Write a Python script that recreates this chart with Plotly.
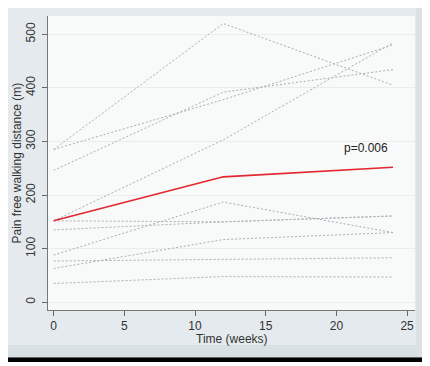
import plotly.graph_objects as go

weeks = [0, 12, 24]
subjects = {
    "s1": [285, 520, 405],
    "s2": [285, 378, 480],
    "s3": [246, 392, 434],
    "s4": [152, 303, 484],
    "s5": [152, 150, 161],
    "s6": [135, 150, 161],
    "s7": [88, 187, 130],
    "s8": [77, 80, 83],
    "s9": [63, 117, 130],
    "s10": [35, 48, 47],
}
mean_values = [152, 234, 252]
x_ticks = [0, 5, 10, 15, 20, 25]
y_ticks = [0, 100, 200, 300, 400, 500]
x_title = "Time (weeks)"
y_title = "Pain free walking distance (m)"
p_label = "p=0.006"

fig = go.Figure()
for name, vals in subjects.items():
    fig.add_trace(go.Scatter(x=weeks, y=vals, mode="lines", name=name,
                             line=dict(color="#a9afb6", width=1, dash="2px,2px"),
                             showlegend=False, hoverinfo="skip"))
fig.add_trace(go.Scatter(x=weeks, y=mean_values, mode="lines", name="mean",
                         line=dict(color="#e3262f", width=1.6), showlegend=False))

# page body has an 8px margin; figure is laid out so the window shows reference coords
OFF = 8
W, H = 430 - OFF, 366 - OFF
L, R, T, B = 48 - OFF, 15, 16 - OFF, 56
pw, ph = W - L - R, H - T - B

def px(x):
    return (x - OFF - L) / pw

def py(y):
    return (H + OFF - B - y) / ph

shapes = [
    dict(type="rect", xref="paper", yref="paper", x0=px(2), x1=px(427), y0=py(362), y1=py(5),
         fillcolor="#000000", line=dict(width=0), layer="below"),
    dict(type="rect", xref="paper", yref="paper", x0=px(5), x1=px(424), y0=py(357), y1=py(3),
         fillcolor="#e4eaed", line=dict(color="#c5cacd", width=1), layer="below"),
    dict(type="rect", xref="paper", yref="paper", x0=px(5.5), x1=px(423.5), y0=py(356.5), y1=py(345),
         fillcolor="#d9e0e4", line=dict(width=0), layer="below"),
    dict(type="rect", xref="paper", yref="paper", x0=px(416), x1=px(423.5), y0=py(356.5), y1=py(3.5),
         fillcolor="#dbe2e5", line=dict(width=0), layer="below"),
    dict(type="rect", xref="paper", yref="paper", x0=0, x1=1, y0=0, y1=1,
         fillcolor="#f8f9f9", line=dict(width=0), layer="below"),
]

font_family = "Liberation Sans, Arial"
fig.add_annotation(x=22.1, y=287, text=p_label, showarrow=False,
                   xanchor="center", yanchor="middle",
                   font=dict(size=12, color="#222222", family=font_family))
fig.add_annotation(xref="paper", yref="paper", x=px(231.5), y=py(339), text=x_title,
                   xanchor="center", yanchor="middle",
                   showarrow=False, font=dict(size=12, color="#333333", family=font_family))
fig.add_annotation(xref="paper", yref="paper", x=px(16.5), y=py(163), text=y_title,
                   xanchor="center", yanchor="middle", textangle=-90, showarrow=False,
                   font=dict(size=12, color="#333333", family=font_family))

fig.update_layout(
    width=W, height=H,
    margin=dict(l=L, r=R, t=T, b=B, autoexpand=False),
    paper_bgcolor="#ffffff",
    plot_bgcolor="rgba(0,0,0,0)",
    shapes=shapes,
    font=dict(family=font_family, size=11, color="#333333"),
    xaxis=dict(range=[-0.4, 25.56], tickvals=x_ticks, ticks="outside", ticklen=5,
               tickcolor="#666666", showline=True, linecolor="#777777", linewidth=1,
               showgrid=False, zeroline=False, automargin=False,
               tickfont=dict(size=12)),
    yaxis=dict(range=[-14.4, 534], tickvals=y_ticks, ticks="outside", ticklen=5,
               tickcolor="#666666", showline=True, linecolor="#777777", linewidth=1,
               showgrid=True, gridcolor="#ebeded", gridwidth=1, zeroline=False,
               tickangle=-90, automargin=False, ticklabelstandoff=2,
               tickfont=dict(size=12)),
)

fig.write_html("out.html")
